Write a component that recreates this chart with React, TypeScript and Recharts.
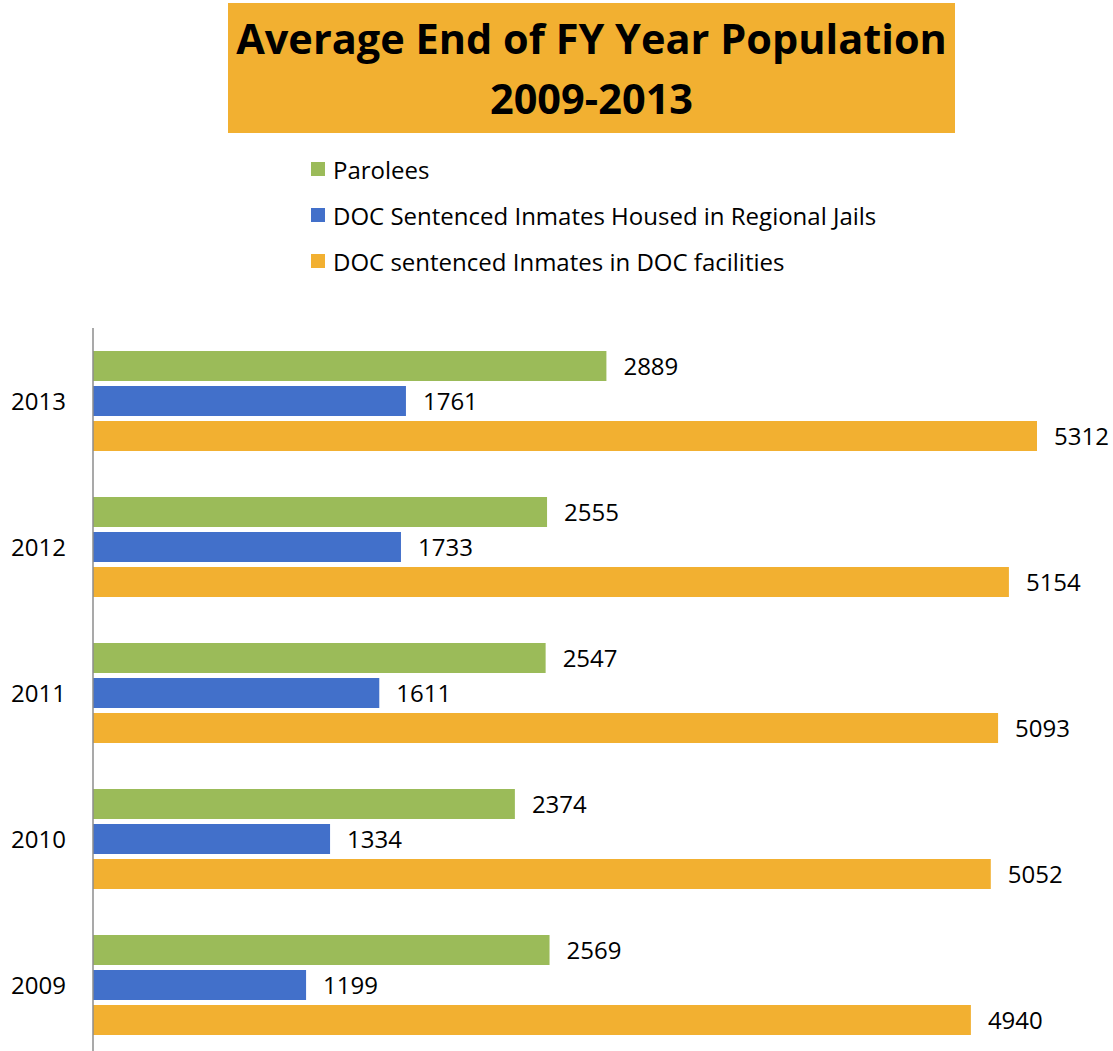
import React from "react";
import { BarChart, Bar, XAxis, YAxis, LabelList } from "recharts";

const years = ["2013", "2012", "2011", "2010", "2009"];
const parolees = [2889, 2555, 2547, 2374, 2569];
const regionalJails = [1761, 1733, 1611, 1334, 1199];
const docFacilities = [5312, 5154, 5093, 5052, 4940];

const seriesNames = [
  "Parolees",
  "DOC Sentenced Inmates Housed in Regional Jails",
  "DOC sentenced Inmates in DOC facilities",
];
const seriesKeys = ["parolees", "regional", "facilities"];
const seriesColors = ["#9BBB59", "#4270CA", "#F2B031"];

const titleLines = ["Average End of FY Year Population", "2009-2013"];

const data = years.map((y, i) => ({
  year: y,
  parolees: parolees[i],
  regional: regionalJails[i],
  facilities: docFacilities[i],
}));

const FONT = "'Open Sans', 'Noto Sans', sans-serif";

export default function App() {
  return (
    <div
      style={{
        position: "absolute",
        left: 0,
        top: 0,
        width: 1113,
        height: 1051,
        overflow: "hidden",
        background: "#fff",
        fontFamily: FONT,
      }}
    >
      <div
        style={{
          position: "absolute",
          left: 228,
          top: 3,
          width: 727,
          height: 130,
          background: "#F2B031",
          textAlign: "center",
          fontWeight: 700,
          fontSize: 41.5,
          lineHeight: "60px",
          paddingTop: 5,
          boxSizing: "border-box",
          color: "#000",
          whiteSpace: "nowrap",
        }}
      >
        {titleLines.map((t) => (
          <div key={t}>{t}</div>
        ))}
      </div>
      <div style={{ position: "absolute", left: 311, top: 146 }}>
        {seriesNames.map((n, i) => (
          <div
            key={n}
            style={{ display: "flex", alignItems: "center", height: 46, fontSize: 24, color: "#000", whiteSpace: "nowrap" }}
          >
            <span
              style={{
                display: "inline-block",
                width: 14,
                height: 14,
                background: seriesColors[i],
                marginRight: 8,
              }}
            />
            <span>{n}</span>
          </div>
        ))}
      </div>
      <div style={{ position: "absolute", left: 0, top: 0 }}>
        <BarChart
          layout="vertical"
          width={1113}
          height={1070}
          data={data}
          margin={{ top: 328, right: 76, bottom: 12, left: 0 }}
          barSize={30}
          barGap={5}
        >
          <XAxis type="number" domain={[0, 5312]} hide />
          <YAxis
            type="category"
            dataKey="year"
            width={93}
            tickLine={false}
            tickSize={0}
            tickMargin={27}
            axisLine={{ stroke: "#8c8c8c", strokeWidth: 1.5 }}
            tick={{ fill: "#000", fontSize: 24, fontFamily: FONT }}
          />
          {seriesKeys.map((k, i) => (
            <Bar
              key={k}
              dataKey={k}
              name={seriesNames[i]}
              fill={seriesColors[i]}
              isAnimationActive={false}
            >
              <LabelList
                dataKey={k}
                position="right"
                offset={17}
                fill="#000"
                fontSize={24}
                fontFamily={FONT}
              />
            </Bar>
          ))}
        </BarChart>
      </div>
    </div>
  );
}
